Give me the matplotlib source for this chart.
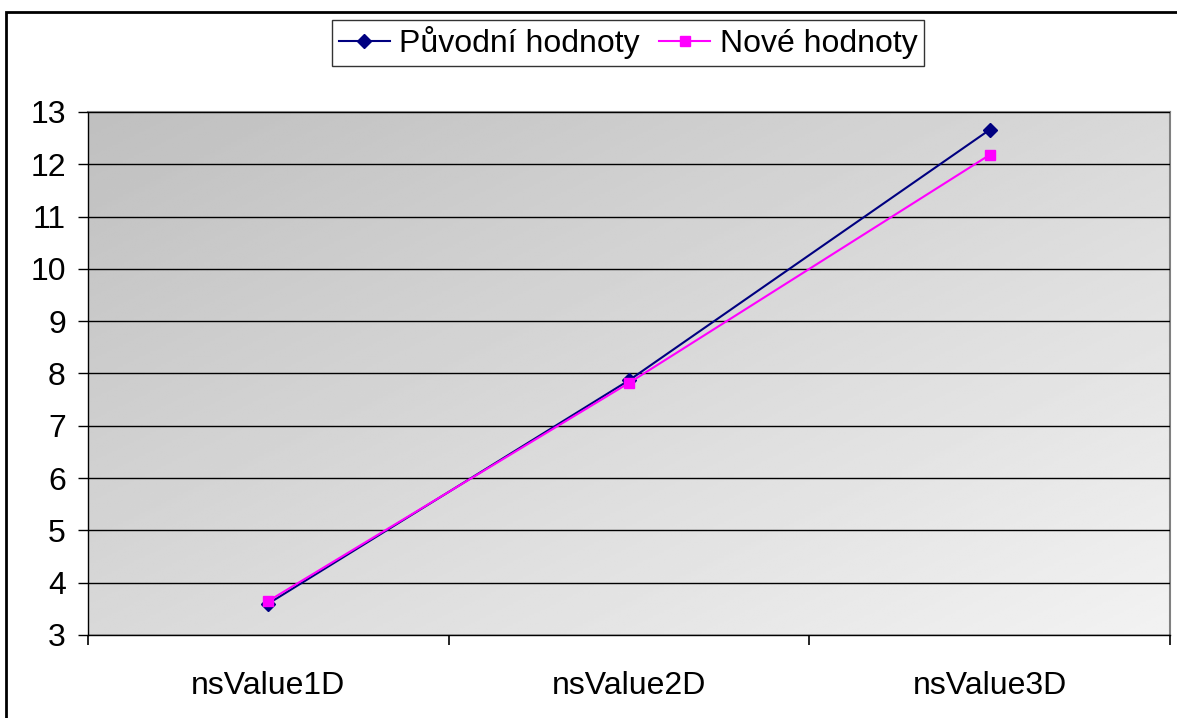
import numpy as np
import matplotlib.pyplot as plt
from matplotlib.patches import Rectangle

plt.rcParams['font.family'] = ['Liberation Sans', 'DejaVu Sans']

categories = ['nsValue1D', 'nsValue2D', 'nsValue3D']
puvodni = [3.6, 7.87, 12.66]
nove = [3.65, 7.82, 12.18]

fig = plt.figure(figsize=(11.77, 7.18), dpi=100)
ax = fig.add_axes([88/1177, 1-635/718, (1170-88)/1177, (635-112)/718])

# gradient background, darker top-left to lighter bottom-right
gx, gy = np.meshgrid(np.linspace(0, 1, 200), np.linspace(0, 1, 200))
grad = (gx + gy) / 2
ax.imshow(grad, cmap='gray', vmin=-3.75, vmax=1.25, extent=[0, 1, 0, 1],
          transform=ax.transAxes, aspect='auto', origin='upper', zorder=0)

x = np.arange(len(categories))
ax.plot(x, puvodni, '-D', color='#000080', lw=1.5, markersize=7, label='Původní hodnoty', zorder=3)
ax.plot(x, nove, '-s', color='#FF00FF', lw=1.5, markersize=7, label='Nové hodnoty', zorder=4)

ax.set_xlim(-0.5, 2.5)
ax.set_ylim(3, 13)
ax.set_yticks(range(3, 14))
ax.yaxis.grid(True, color='black', lw=1)
ax.set_axisbelow(False)
ax.set_xticks([-0.5, 0.5, 1.5, 2.5])
ax.set_xticklabels([])
ax.set_xticks(x, minor=True)
ax.set_xticklabels(categories, minor=True)
ax.tick_params(axis='x', which='minor', length=0, pad=26, labelsize=23)
ax.tick_params(axis='x', which='major', length=7, width=1.2)
ax.tick_params(axis='y', length=7, width=1, labelsize=23, pad=9)
for s in ['top', 'right']:
    ax.spines[s].set_color('#808080')
    ax.spines[s].set_linewidth(1.5)
for s in ['left', 'bottom']:
    ax.spines[s].set_color('black')
    ax.spines[s].set_linewidth(1)

leg = fig.legend(loc='upper center', bbox_to_anchor=(628/1177, 1-20/718), ncol=2,
                 fontsize=23, frameon=True, fancybox=False, handlelength=1.6,
                 columnspacing=0.6, handletextpad=0.3, borderpad=0.2, borderaxespad=0)
leg.get_frame().set_edgecolor('black')
leg.get_frame().set_linewidth(1)

fig.patches.append(Rectangle((6/1177, -0.05), 2, 1.05 - 12/718, transform=fig.transFigure,
                             fill=False, edgecolor='black', lw=2))

fig.savefig('out.png', dpi=100)
